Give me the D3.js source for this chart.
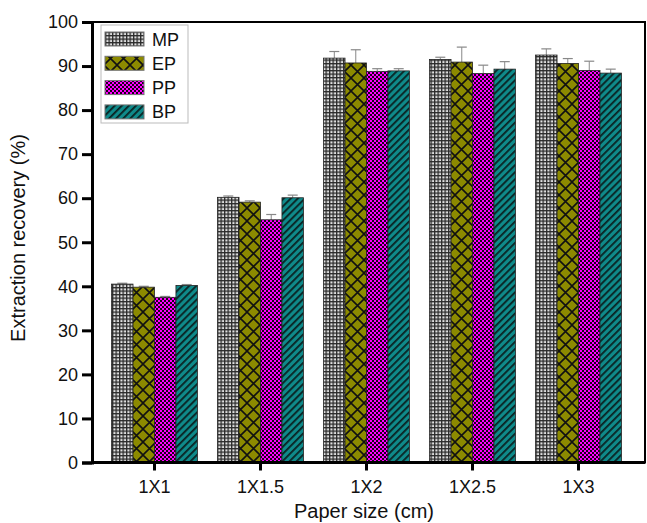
<!DOCTYPE html>
<html><head><meta charset="utf-8">
<script src="https://cdn.jsdelivr.net/npm/d3@7/dist/d3.min.js"></script>
<style>body{margin:0;background:#fff}svg{display:block;font-family:"Liberation Sans",Arial,sans-serif}</style>
</head><body><svg id="c" width="647" height="523"></svg>
<script>
const categories = ["1X1","1X1.5","1X2","1X2.5","1X3"];
const seriesNames = ["MP","EP","PP","BP"];
const MP = [40.5, 60.2, 91.8, 91.5, 92.5];
const EP = [39.8, 59.1, 90.7, 90.9, 90.6];
const PP = [37.5, 55.1, 88.8, 88.3, 89.0];
const BP = [40.2, 60.1, 88.9, 89.3, 88.4];
const MPerr = [0.2, 0.3, 1.5, 0.5, 1.4];
const EPerr = [0.2, 0.3, 3.0, 3.4, 1.1];
const PPerr = [0.2, 1.2, 0.6, 1.9, 2.1];
const BPerr = [0.2, 0.6, 0.5, 1.7, 0.9];
const yTicks = [0,10,20,30,40,50,60,70,80,90,100];
const values = [MP, EP, PP, BP];
const errors = [MPerr, EPerr, PPerr, BPerr];

const svg = d3.select("#c");
const L = 92, R = 645, T = 22, B = 462.5;
const y = d3.scaleLinear().domain([0,100]).range([B, T]);
const x = d3.scaleBand().domain(categories).range([102, 631]).paddingInner(0.19).paddingOuter(0.09);
const xs = d3.scaleBand().domain(seriesNames).range([0, x.bandwidth()]);

// patterns
const defs = svg.append("defs");
let p = defs.append("pattern").attr("id","pMP").attr("patternUnits","userSpaceOnUse").attr("width",3.5).attr("height",3.5);
p.append("rect").attr("width",3.5).attr("height",3.5).attr("fill","#e0e0e0");
p.append("rect").attr("width",3.5).attr("height",1.3).attr("fill","#2a2a2a");
p.append("rect").attr("width",1.3).attr("height",3.5).attr("fill","#2a2a2a");
p = defs.append("pattern").attr("id","pEP").attr("patternUnits","userSpaceOnUse").attr("width",13).attr("height",13);
p.append("rect").attr("width",13).attr("height",13).attr("fill","#8c8a00");
p.append("path").attr("d","M0,0L13,13M13,0L0,13M-1,12L1,14M12,-1L14,1").attr("stroke","#111").attr("stroke-width",1.6);
p = defs.append("pattern").attr("id","pPP").attr("patternUnits","userSpaceOnUse").attr("width",4).attr("height",4);
p.append("rect").attr("width",4).attr("height",4).attr("fill","#ff00ff");
p.append("rect").attr("width",2).attr("height",2).attr("fill","#1a001a");
p.append("rect").attr("x",2).attr("y",2).attr("width",2).attr("height",2).attr("fill","#1a001a");
p = defs.append("pattern").attr("id","pBP").attr("patternUnits","userSpaceOnUse").attr("width",5).attr("height",5).attr("patternTransform","rotate(45)");
p.append("rect").attr("width",5).attr("height",5).attr("fill","#0f8a8a");
p.append("rect").attr("width",1.8).attr("height",5).attr("fill","#0a2222");
const fills = {MP:"url(#pMP)",EP:"url(#pEP)",PP:"url(#pPP)",BP:"url(#pBP)"};

// frame
svg.append("rect").attr("x",L).attr("y",T).attr("width",R-L).attr("height",B-T).attr("fill","none").attr("stroke","#000").attr("stroke-width",2);

// bars
seriesNames.forEach((s, si) => {
  const g = svg.append("g");
  categories.forEach((c, ci) => {
    const v = values[si][ci], e = errors[si][ci];
    const bx = x(c) + xs(s), bw = xs.bandwidth();
    const cx = bx + bw/2;
    g.append("line").attr("x1",cx).attr("x2",cx).attr("y1",y(v)).attr("y2",y(v+e)).attr("stroke","#888").attr("stroke-width",1);
    g.append("line").attr("x1",cx-5).attr("x2",cx+5).attr("y1",y(v+e)).attr("y2",y(v+e)).attr("stroke","#888").attr("stroke-width",1.2);
    g.append("rect").attr("x",bx).attr("y",y(v)).attr("width",bw).attr("height",y(0)-y(v))
      .attr("fill",fills[s]).attr("stroke","#222").attr("stroke-width",0.8);
  });
});

// axes
const yAxis = svg.append("g").attr("transform",`translate(${L},0)`)
  .call(d3.axisLeft(y).tickValues(yTicks).tickSize(10).tickPadding(4));
yAxis.select(".domain").attr("stroke-width",3);
yAxis.selectAll(".tick line").attr("stroke-width",3);
yAxis.selectAll("text").attr("font-size",18).attr("fill","#111");

const xAxis = svg.append("g").attr("transform",`translate(0,${B})`)
  .call(d3.axisBottom(x).tickSize(8).tickPadding(10));
xAxis.select(".domain").attr("d",`M${L},0H${R}`).attr("stroke-width",3);
xAxis.selectAll(".tick line").attr("stroke-width",3);
xAxis.selectAll("text").attr("font-size",18).attr("fill","#111");

// titles
svg.append("text").attr("x",364).attr("y",518).attr("text-anchor","middle").attr("font-size",20).attr("fill","#111").text("Paper size (cm)");
svg.append("text").attr("transform","translate(25,238) rotate(-90)").attr("text-anchor","middle").attr("font-size",20).attr("fill","#111").text("Extraction recovery (%)");

// legend
const lg = svg.append("g");
lg.append("rect").attr("x",101).attr("y",25).attr("width",87).attr("height",98).attr("fill","#fff").attr("stroke","#bbb").attr("stroke-width",1);
seriesNames.forEach((s, i) => {
  const cy = 39 + i*24.3;
  lg.append("rect").attr("x",105).attr("y",cy-7).attr("width",39).attr("height",14).attr("fill",fills[s]).attr("stroke","#777").attr("stroke-width",1);
  lg.append("text").attr("x",152).attr("y",cy+6.5).attr("font-size",18).attr("fill","#111").text(s);
});
</script></body></html>
